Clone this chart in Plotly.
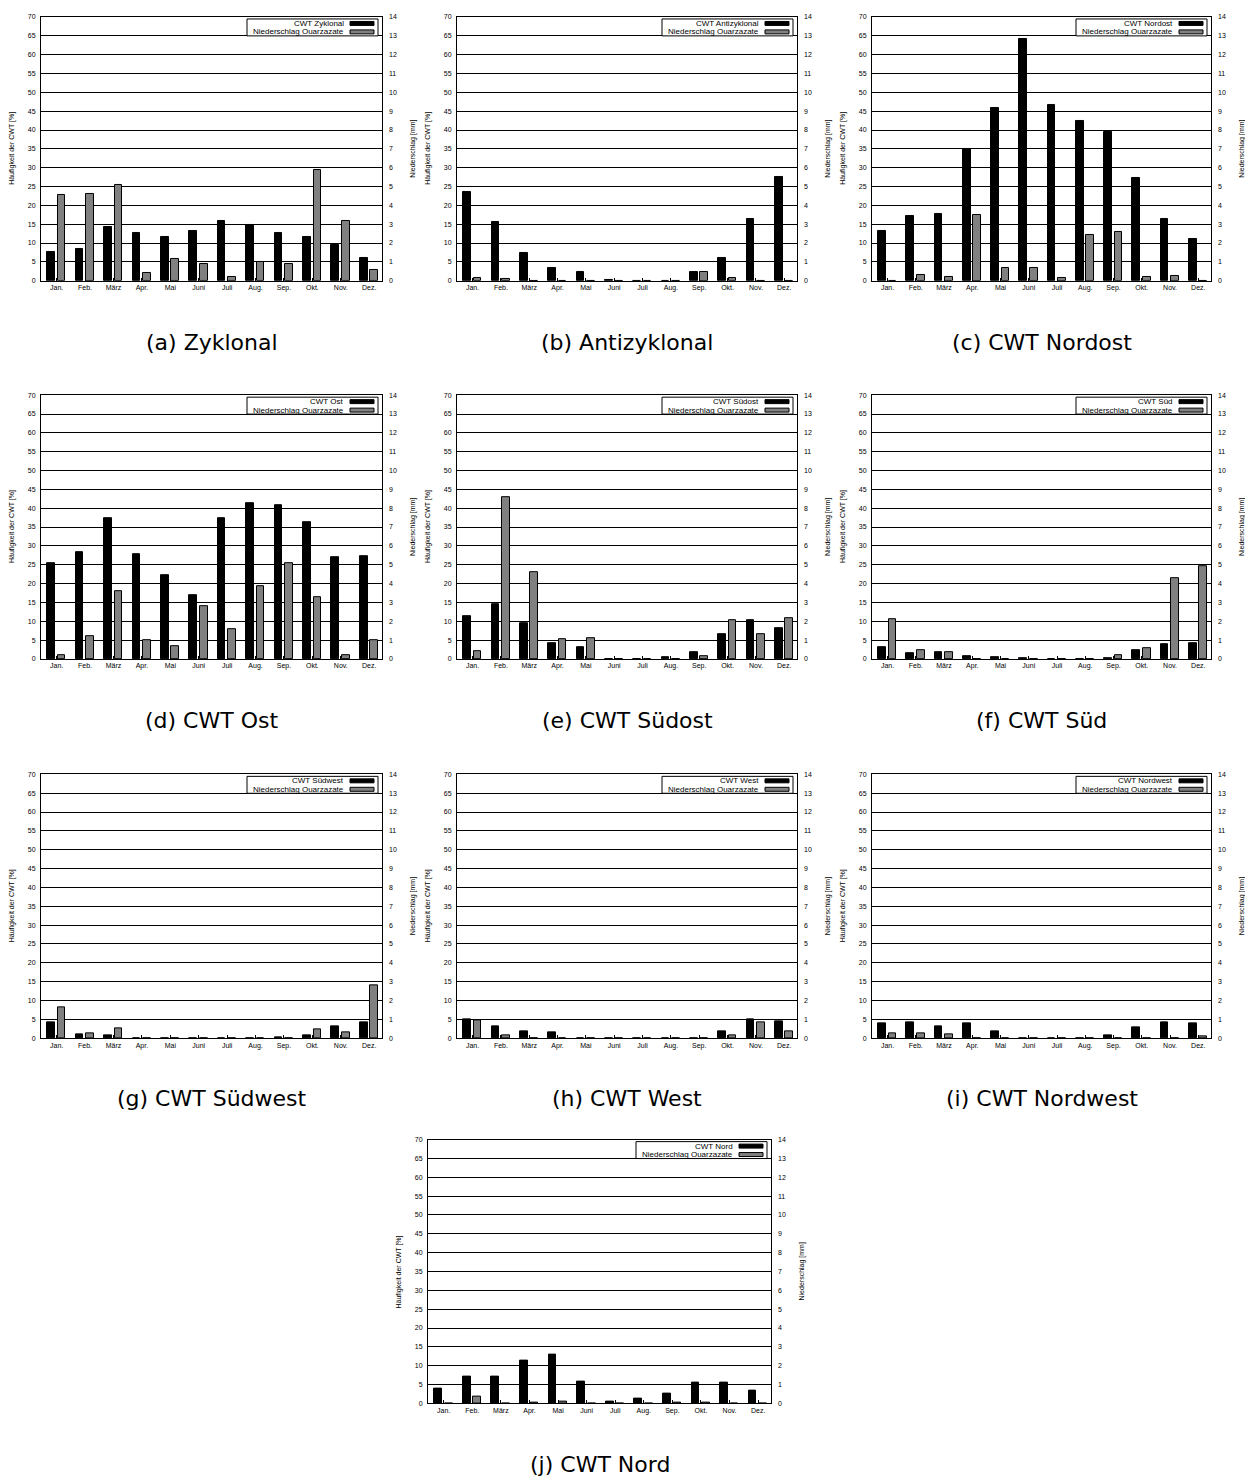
import plotly.graph_objects as go

months = ["Jan.", "Feb.", "März", "Apr.", "Mai", "Juni", "Juli", "Aug.", "Sep.", "Okt.", "Nov.", "Dez."]

captions = ["(a) Zyklonal", "(b) Antizyklonal", "(c) CWT Nordost", "(d) CWT Ost", "(e) CWT Südost",
            "(f) CWT Süd", "(g) CWT Südwest", "(h) CWT West", "(i) CWT Nordwest", "(j) CWT Nord"]
legend_names = ["CWT Zyklonal", "CWT Antizyklonal", "CWT Nordost", "CWT Ost", "CWT Südost",
                "CWT Süd", "CWT Südwest", "CWT West", "CWT Nordwest", "CWT Nord"]
precip_name = "Niederschlag Ouarzazate"

# Frequency of circulation weather type [%]
cwt_zyklonal = [7.6, 8.4, 14.2, 12.8, 11.5, 13.1, 15.9, 14.9, 12.6, 11.6, 9.5, 6.1]
cwt_antizyklonal = [23.5, 15.5, 7.3, 3.4, 2.2, 0.3, 0.0, 0.0, 2.2, 6.0, 16.4, 27.6]
cwt_nordost = [13.2, 17.2, 17.7, 35.0, 45.9, 64.1, 46.7, 42.5, 39.5, 27.2, 16.3, 11.2]
cwt_ost = [25.3, 28.4, 37.4, 27.7, 22.2, 16.9, 37.4, 41.3, 40.7, 36.3, 26.9, 27.4]
cwt_suedost = [11.3, 14.4, 9.4, 4.3, 3.1, 0.0, 0.0, 0.35, 1.85, 6.6, 10.4, 8.1]
cwt_sued = [3.2, 1.5, 1.8, 0.8, 0.5, 0.2, 0.0, 0.0, 0.2, 2.4, 3.9, 4.3]
cwt_suedwest = [4.2, 1.05, 0.8, 0.0, 0.0, 0.0, 0.0, 0.0, 0.3, 0.8, 3.2, 4.2]
cwt_west = [4.9, 3.2, 1.7, 1.4, 0.0, 0.0, 0.0, 0.0, 0.0, 1.9, 5.1, 4.5]
cwt_nordwest = [4.0, 4.3, 3.25, 3.8, 1.85, 0.0, 0.0, 0.0, 0.7, 2.8, 4.1, 4.0]
cwt_nord = [4.0, 7.1, 7.0, 11.4, 13.0, 5.7, 0.44, 1.14, 2.7, 5.4, 5.5, 3.4]

# Precipitation Ouarzazate [mm]
pr_zyklonal = [4.56, 4.63, 5.07, 0.39, 1.16, 0.9, 0.19, 1.0, 0.88, 5.9, 3.17, 0.58]
pr_antizyklonal = [0.12, 0.09, 0.0, 0.0, 0.0, 0.0, 0.0, 0.0, 0.46, 0.12, 0.0, 0.0]
pr_nordost = [0.0, 0.28, 0.21, 3.5, 0.7, 0.7, 0.12, 2.45, 2.59, 0.18, 0.23, 0.0]
pr_ost = [0.19, 1.23, 3.6, 1.0, 0.69, 2.82, 1.57, 3.87, 5.09, 3.29, 0.19, 1.0]
pr_suedost = [0.4, 8.6, 4.63, 1.04, 1.11, 0.0, 0.0, 0.0, 0.14, 2.06, 1.3, 2.17]
pr_sued = [2.11, 0.48, 0.35, 0.0, 0.0, 0.0, 0.0, 0.0, 0.21, 0.55, 4.31, 4.9]
pr_suedwest = [1.62, 0.26, 0.53, 0.0, 0.0, 0.0, 0.0, 0.0, 0.0, 0.46, 0.32, 2.78]
pr_west = [0.93, 0.14, 0.0, 0.0, 0.0, 0.0, 0.0, 0.0, 0.0, 0.14, 0.84, 0.35]
pr_nordwest = [0.26, 0.26, 0.19, 0.0, 0.0, 0.0, 0.0, 0.0, 0.0, 0.0, 0.0, 0.1]
pr_nord = [0.0, 0.35, 0.0, 0.05, 0.07, 0.0, 0.0, 0.0, 0.04, 0.04, 0.0, 0.0]

cwt_series = [cwt_zyklonal, cwt_antizyklonal, cwt_nordost, cwt_ost, cwt_suedost,
              cwt_sued, cwt_suedwest, cwt_west, cwt_nordwest, cwt_nord]
pr_series = [pr_zyklonal, pr_antizyklonal, pr_nordost, pr_ost, pr_suedost,
             pr_sued, pr_suedwest, pr_west, pr_nordwest, pr_nord]

PAGE_MARGIN = 8  # default body margin of the html page
W, H = 1253 - PAGE_MARGIN, 1483 - PAGE_MARGIN
# plot areas in page pixels: (left, right, top, bottom)
cols = [(41, 382), (457, 797), (872, 1211)]
rows = [(13, 278), (393, 658), (774, 1039)]
cap_y = [340, 720, 1100, 1467]
boxes = []
for r in range(3):
    for c in range(3):
        boxes.append((cols[c][0], cols[c][1], rows[r][0], rows[r][1], cap_y[r]))
boxes.append((428, 771, 1141, 1406, cap_y[3]))


def fx(px):
    return (px - PAGE_MARGIN) / W


def fy(py):
    return 1 - (py - PAGE_MARGIN) / H


FONT = "Liberation Sans, Arial, sans-serif"
TICKFONT = dict(family=FONT, size=7, color="black")
fig = go.Figure()
shapes = []
annotations = []
layout = {}

for i in range(10):
    n = i + 1
    xa = "x" if n == 1 else f"x{n}"
    ya = "y" if n == 1 else f"y{2 * n - 1}"
    yb = f"y{2 * n}"
    l, r, t, b, cy = boxes[i]
    pw, ph = r - l, b - t

    fig.add_trace(go.Bar(x=months, y=cwt_series[i], xaxis=xa, yaxis=ya, offset=-0.33, width=0.27,
                         marker=dict(color="black", line=dict(color="black", width=1)),
                         showlegend=False, name=legend_names[i]))
    fig.add_trace(go.Bar(x=months, y=pr_series[i], xaxis=xa, yaxis=yb, offset=0.04, width=0.27,
                         marker=dict(color="#808080", line=dict(color="black", width=1)),
                         showlegend=False, name=precip_name))

    xkey = "xaxis" if n == 1 else f"xaxis{n}"
    ykey = "yaxis" if n == 1 else f"yaxis{2 * n - 1}"
    y2key = f"yaxis{2 * n}"
    layout[xkey] = dict(domain=[fx(l), fx(r)], anchor=ya, type="category", range=[-0.55, 11.45],
                        showgrid=False, ticks="inside", ticklen=3, tickcolor="black",
                        showline=True, linecolor="black", linewidth=1, mirror=True,
                        tickfont=TICKFONT, fixedrange=True)
    layout[ykey] = dict(domain=[fy(b), fy(t)], anchor=xa, range=[0, 70], dtick=5,
                        showgrid=True, gridcolor="black", gridwidth=1, zeroline=False,
                        ticks="inside", ticklen=4, tickcolor="black", ticklabelstandoff=3,
                        showline=True, linecolor="black", linewidth=1, mirror=True,
                        tickfont=TICKFONT, fixedrange=True)
    layout[y2key] = dict(overlaying=ya, anchor=xa, side="right", range=[0, 14], dtick=1,
                         showgrid=False, zeroline=False, ticks="inside", ticklen=4, tickcolor="black",
                         ticklabelstandoff=6,
                         showline=False, tickfont=TICKFONT, fixedrange=True)

    xd = f"{xa} domain"
    yd = f"{ya} domain"
    # legend box
    shapes.append(dict(type="rect", xref=xd, yref=yd, x0=1 - 135 / pw, x1=1 - 4 / pw,
                       y0=1 - 19 / ph, y1=1 - 2 / ph, line=dict(color="black", width=1),
                       fillcolor="white", layer="above"))
    for k, (txt, col) in enumerate([(legend_names[i], "black"), (precip_name, "#808080")]):
        cyp = 6.5 + 8.5 * k
        shapes.append(dict(type="rect", xref=xd, yref=yd, x0=1 - 32 / pw, x1=1 - 8 / pw,
                           y0=1 - (cyp + 2) / ph, y1=1 - (cyp - 2) / ph,
                           line=dict(color="black", width=1), fillcolor=col, layer="above"))
        annotations.append(dict(xref=xd, yref=yd, x=1 - 36 / pw, y=1 - cyp / ph, text=txt,
                                showarrow=False, xanchor="right", yanchor="middle",
                                font=dict(family=FONT, size=8, color="black")))
    # axis titles
    annotations.append(dict(xref=xd, yref=yd, x=-29 / pw, y=0.5, text="Häufigkeit der CWT [%]",
                            textangle=-90, showarrow=False, xanchor="center", yanchor="middle",
                            font=dict(family=FONT, size=7, color="black")))
    annotations.append(dict(xref=xd, yref=yd, x=1 + 31 / pw, y=0.5, text="Niederschlag [mm]",
                            textangle=-90, showarrow=False, xanchor="center", yanchor="middle",
                            font=dict(family=FONT, size=7, color="black")))
    # caption
    annotations.append(dict(xref="paper", yref="paper", x=fx((l + r) / 2), y=fy(cy),
                            text=captions[i], showarrow=False, xanchor="center", yanchor="middle",
                            font=dict(family="DejaVu Sans, sans-serif", size=22, color="black")))

fig.update_layout(width=W, height=H, margin=dict(l=0, r=0, t=0, b=0),
                  paper_bgcolor="white", plot_bgcolor="white", showlegend=False,
                  bargap=0, shapes=shapes, annotations=annotations, **layout)

fig.write_html("out.html")
